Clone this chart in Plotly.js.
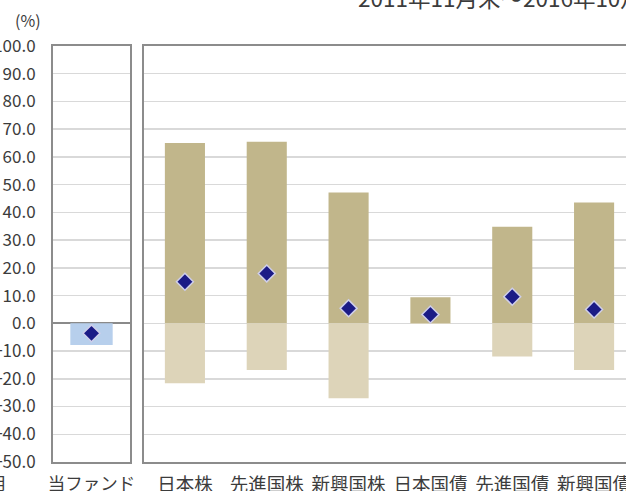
<!DOCTYPE html>
<html>
<head>
<meta charset="utf-8">
<script src="https://cdn.plot.ly/plotly-3.0.1.min.js"></script>
<style>
html,body{margin:0;padding:0;overflow:hidden;background:#fff;width:626px;height:491px;}
#chart{position:absolute;left:0;top:0;width:650px;height:491px;}
</style>
</head>
<body>
<div id="chart"></div>
<script>
// ---- data ----
const fundCategories = ['当ファンド'];
const fundMin = [-7.8];
const fundAvg = [-3.6];

const categories = ['日本株', '先進国株', '新興国株', '日本国債', '先進国債', '新興国債'];
const maxVals = [65.0, 65.5, 47.2, 9.4, 34.8, 43.6];
const minVals = [-21.6, -16.8, -27.0, -0.2, -12.0, -16.8];
const avgVals = [15.0, 18.0, 5.4, 3.2, 9.6, 5.0];

const yTickVals = [100, 90, 80, 70, 60, 50, 40, 30, 20, 10, 0, -10, -20, -30, -40, -50];
const periodText = '2011年11月末～2016年10月末';
const unitText = '(%)';

// ---- layout geometry ----
const W = 650, H = 491;
const mL = 53, mR = 15, mT = 46, mB = 29;
const pw = W - mL - mR, ph = H - mT - mB;
const px2x = p => (p - mL) / pw;
const py2y = p => (H - mB - p) / ph;

const font = "'Noto Sans CJK JP', 'Noto Sans', sans-serif";
const txtColor = '#3c3c3c';
const borderColor = '#8c8c8c';
const gridColor = '#d9d9d9';

const diamond = {symbol: 'diamond', size: 13, color: '#1b1b86', line: {color: '#cfcfea', width: 1.5}};

const traces = [
  {type: 'bar', x: fundCategories, y: fundMin, xaxis: 'x', yaxis: 'y',
   marker: {color: '#b7cfec'}, width: 0.55, hoverinfo: 'skip'},
  {type: 'scatter', mode: 'markers', x: fundCategories, y: fundAvg, xaxis: 'x', yaxis: 'y',
   marker: diamond, hoverinfo: 'skip'},
  {type: 'bar', x: categories, y: maxVals, xaxis: 'x2', yaxis: 'y2',
   marker: {color: '#c1b68b'}, width: 0.49, hoverinfo: 'skip'},
  {type: 'bar', x: categories, y: minVals, xaxis: 'x2', yaxis: 'y2',
   marker: {color: '#ddd4b9'}, width: 0.49, hoverinfo: 'skip'},
  {type: 'scatter', mode: 'markers', x: categories, y: avgVals, xaxis: 'x2', yaxis: 'y2',
   marker: diamond, hoverinfo: 'skip'}
];

const yRange = [-50, 100];
const leftEnd = px2x(130), rightStart = px2x(144);
const boundaryTicks = categories.slice(1).map((_, i) => i + 0.5);

const layout = {
  width: W, height: H,
  margin: {l: mL, r: mR, t: mT, b: mB, pad: 0},
  paper_bgcolor: '#fff', plot_bgcolor: '#fff',
  showlegend: false,
  barmode: 'overlay',
  font: {family: font, color: txtColor, size: 17},
  xaxis: {domain: [0, leftEnd], type: 'category', range: [-0.5, 0.5],
    showline: true, mirror: true, linecolor: borderColor, linewidth: 2,
    showgrid: false, zeroline: false, ticks: '', ticklabelstandoff: 5,
    tickfont: {size: 17.5, color: txtColor}, automargin: false, fixedrange: true},
  yaxis: {domain: [0, 1], anchor: 'x', range: yRange, tickvals: yTickVals, tickformat: '.1f',
    showline: true, mirror: true, linecolor: borderColor, linewidth: 2,
    showgrid: true, gridcolor: gridColor, gridwidth: 1.5,
    zeroline: true, zerolinecolor: '#8a8a8a', zerolinewidth: 2,
    ticks: '', ticklabelstandoff: 12, tickfont: {size: 17, color: txtColor},
    automargin: false, fixedrange: true},
  xaxis2: {domain: [rightStart, 1], anchor: 'y2', type: 'category', range: [-0.5, 5.5],
    showline: true, mirror: true, linecolor: borderColor, linewidth: 2,
    showgrid: false, zeroline: false, ticks: '', ticklabelstandoff: 5,
    tickfont: {size: 18.5, color: txtColor}, automargin: false, fixedrange: true},
  yaxis2: {domain: [0, 1], anchor: 'x2', range: yRange, tickvals: yTickVals,
    showticklabels: false, showline: true, mirror: true, linecolor: borderColor, linewidth: 2,
    showgrid: true, gridcolor: gridColor, gridwidth: 1.5,
    zeroline: false, ticks: '', automargin: false, fixedrange: true},
  xaxis3: {domain: [rightStart, 1], anchor: 'free', overlaying: 'x2',
    position: (0 - yRange[0]) / (yRange[1] - yRange[0]),
    range: [-0.5, 5.5], tickvals: boundaryTicks, showticklabels: false,
    ticks: 'inside', ticklen: 6, tickwidth: 1.5, tickcolor: '#6e6e6e',
    showline: true, linecolor: '#777', linewidth: 2, showgrid: false, zeroline: false,
    automargin: false, fixedrange: true},
  annotations: [
    {text: unitText, xref: 'paper', yref: 'paper', x: px2x(28), y: py2y(20),
     xanchor: 'center', yanchor: 'middle', showarrow: false, font: {size: 16, color: txtColor}},
    {text: periodText, xref: 'paper', yref: 'paper', x: px2x(356), y: py2y(-3),
     xanchor: 'left', yanchor: 'middle', showarrow: false, font: {size: 22.5, color: txtColor}},
    {text: '月', xref: 'paper', yref: 'paper', x: px2x(9), y: py2y(482),
     xanchor: 'right', yanchor: 'middle', showarrow: false, font: {size: 17, color: txtColor}}
  ]
};

Plotly.newPlot('chart', traces, layout, {displayModeBar: false, staticPlot: true});
</script>
</body>
</html>
